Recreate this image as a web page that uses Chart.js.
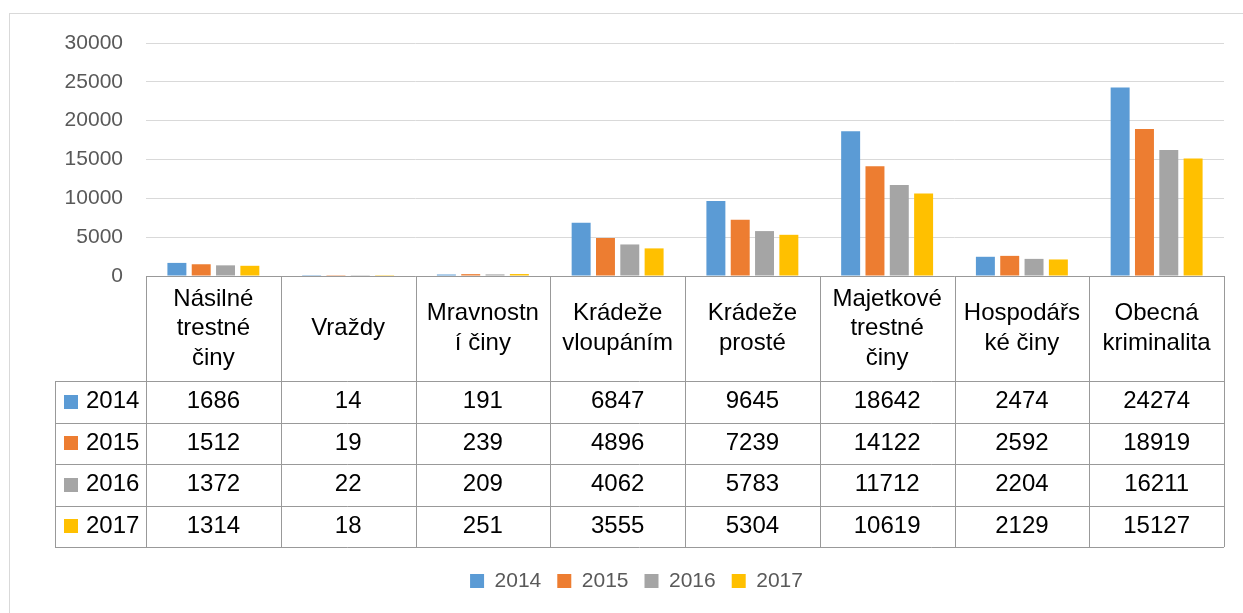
<!DOCTYPE html>
<html>
<head>
<meta charset="utf-8">
<script src="https://cdn.jsdelivr.net/npm/chart.js@4.4.1/dist/chart.umd.min.js"></script>
<style>
  body { margin: 0; background: #fff; }
  canvas { display: block; }
</style>
</head>
<body>
<canvas id="crimeChart" width="1243" height="613"></canvas>
<script>
// Category labels, already split into the lines shown in the table header
const categories = [
  ["Násilné", "trestné", "činy"],
  ["Vraždy"],
  ["Mravnostn", "í činy"],
  ["Krádeže", "vloupáním"],
  ["Krádeže", "prosté"],
  ["Majetkové", "trestné", "činy"],
  ["Hospodářs", "ké činy"],
  ["Obecná", "kriminalita"],
];
const years = ["2014", "2015", "2016", "2017"];
const values2014 = [1686, 14, 191, 6847, 9645, 18642, 2474, 24274];
const values2015 = [1512, 19, 239, 4896, 7239, 14122, 2592, 18919];
const values2016 = [1372, 22, 209, 4062, 5783, 11712, 2204, 16211];
const values2017 = [1314, 18, 251, 3555, 5304, 10619, 2129, 15127];
const yTicks = [0, 5000, 10000, 15000, 20000, 25000, 30000];

const SERIES_COLORS = ["#5B9BD5", "#ED7D31", "#A5A5A5", "#FFC000"];
const FONT = "'Liberation Sans', Arial, sans-serif";

// White background + light frame around the chart
const framePlugin = {
  id: "frame",
  beforeDraw(chart) {
    const ctx = chart.ctx;
    ctx.save();
    ctx.fillStyle = "#fff";
    ctx.fillRect(0, 0, chart.width, chart.height);
    ctx.strokeStyle = "#d9d9d9";
    ctx.lineWidth = 1;
    ctx.strokeRect(9.5, 13.5, chart.width + 20, chart.height + 20);
    ctx.restore();
  },
};

// Excel-like data table under the plot area
const dataTablePlugin = {
  id: "dataTable",
  afterDraw(chart) {
    const ctx = chart.ctx;
    const area = chart.chartArea;
    const xScale = chart.scales.x;
    const colW = (area.right - area.left) / categories.length;
    const tableTop = area.bottom;
    const headerBottom = tableTop + 105;
    const rowH = 41.5;
    const tableBottom = headerBottom + rowH * years.length;
    const keyLeft = area.left - 91;
    const px = (v) => Math.round(v) + 0.5;

    ctx.save();
    ctx.strokeStyle = "#999";
    ctx.lineWidth = 1;
    ctx.beginPath();
    ctx.moveTo(area.left, px(tableTop));
    ctx.lineTo(area.right, px(tableTop));
    for (let r = 0; r <= years.length; r++) {
      const y = px(headerBottom + r * rowH);
      ctx.moveTo(keyLeft, y);
      ctx.lineTo(area.right, y);
    }
    for (let c = 0; c <= categories.length; c++) {
      const x = px(area.left + c * colW);
      ctx.moveTo(x, tableTop);
      ctx.lineTo(x, tableBottom);
    }
    ctx.moveTo(px(keyLeft), headerBottom);
    ctx.lineTo(px(keyLeft), tableBottom);
    ctx.stroke();

    ctx.fillStyle = "#000";
    ctx.font = "24px " + FONT;
    ctx.textAlign = "center";
    ctx.textBaseline = "middle";

    // header
    const lineH = 29.5;
    const headerMid = (tableTop + headerBottom) / 2;
    categories.forEach((lines, i) => {
      const cx = xScale.getPixelForValue(i);
      const startY = headerMid - ((lines.length - 1) * lineH) / 2;
      lines.forEach((text, k) => ctx.fillText(text, cx, startY + k * lineH));
    });

    // value rows
    chart.data.datasets.forEach((ds, r) => {
      const cy = headerBottom + rowH * (r + 0.5);
      ctx.fillStyle = ds.backgroundColor;
      ctx.fillRect(keyLeft + 9, Math.round(cy - 7), 14, 14);
      ctx.fillStyle = "#000";
      ctx.textAlign = "left";
      ctx.fillText(ds.label, keyLeft + 31, cy);
      ctx.textAlign = "center";
      ds.data.forEach((v, i) => {
        ctx.fillText(String(v), xScale.getPixelForValue(i), cy);
      });
    });
    ctx.restore();
  },
};

const seriesValues = [values2014, values2015, values2016, values2017];

new Chart(document.getElementById("crimeChart"), {
  type: "bar",
  data: {
    labels: categories.map((c) => c.join(" ")),
    datasets: years.map((year, i) => ({
      label: year,
      data: seriesValues[i],
      backgroundColor: SERIES_COLORS[i],
      borderWidth: 0,
      categoryPercentage: 0.722,
      barPercentage: 0.78,
    })),
  },
  options: {
    responsive: false,
    animation: false,
    layout: {
      padding: { top: 43, left: 49, right: 19, bottom: 11.5 },
    },
    plugins: {
      tooltip: { enabled: false },
      legend: {
        position: "bottom",
        labels: {
          boxWidth: 14,
          boxHeight: 14,
          padding: 16,
          color: "#595959",
          font: { family: FONT, size: 21 },
        },
      },
    },
    scales: {
      x: {
        grid: { display: false },
        border: { display: false },
        ticks: { display: false },
        afterFit: (scale) => {
          scale.height = 278.5;
        },
      },
      y: {
        min: yTicks[0],
        max: yTicks[yTicks.length - 1],
        afterBuildTicks: (scale) => {
          scale.ticks = yTicks.map((v) => ({ value: v }));
        },
        afterFit: (scale) => {
          scale.width = 97;
        },
        grid: { color: "#d9d9d9", lineWidth: 1, drawTicks: false },
        border: { display: false },
        ticks: {
          padding: 23,
          color: "#595959",
          font: { family: FONT, size: 21 },
          callback: (value) => String(value),
        },
      },
    },
  },
  plugins: [framePlugin, dataTablePlugin],
});
</script>
</body>
</html>
